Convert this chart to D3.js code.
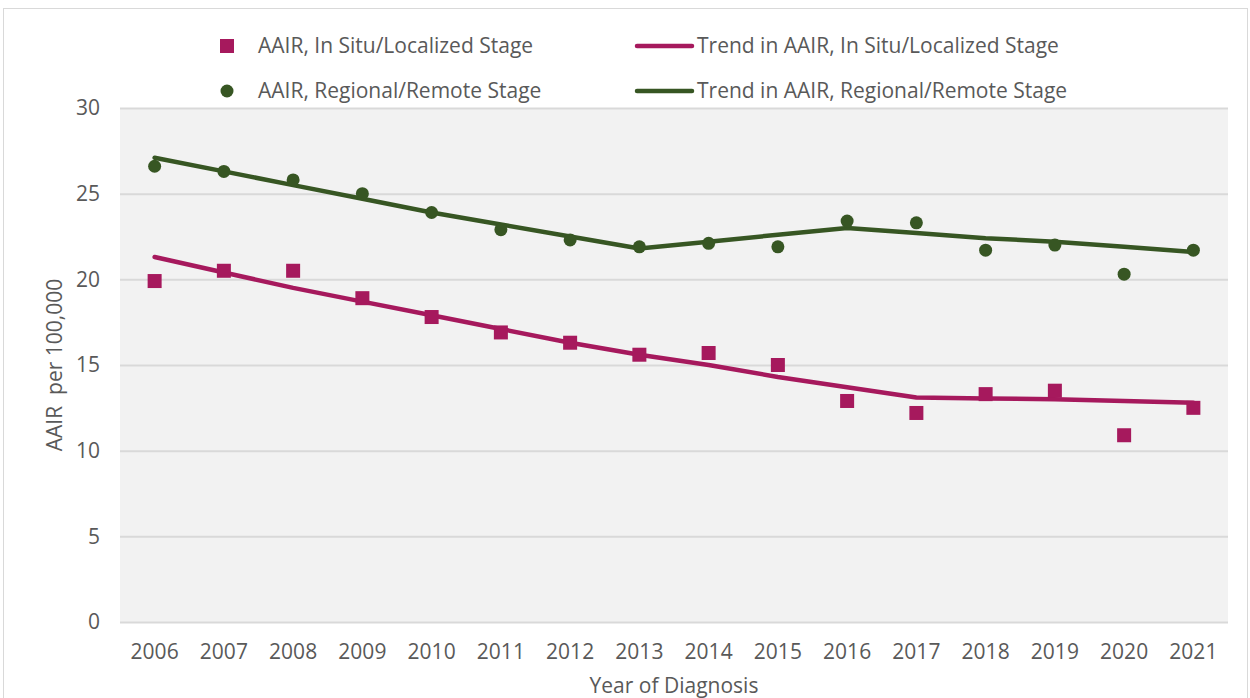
<!DOCTYPE html>
<html><head><meta charset="utf-8">
<script src="https://cdn.jsdelivr.net/npm/d3@7"></script>
<style>body{margin:0;background:#fff}svg{display:block}text{font-family:"Open Sans",sans-serif;fill:#595959}</style>
</head><body><svg id="c" width="1250" height="698"></svg>
<script>
const years = [2006,2007,2008,2009,2010,2011,2012,2013,2014,2015,2016,2017,2018,2019,2020,2021];
const localized = [19.9,20.5,20.5,18.9,17.8,16.9,16.3,15.6,15.7,15.0,12.9,12.2,13.3,13.5,10.9,12.5];
const localizedTrend = [21.3,20.4,19.5,18.7,17.9,17.1,16.3,15.6,15.0,14.3,13.7,13.1,13.05,13.0,12.9,12.8];
const regional = [26.6,26.3,25.8,25.0,23.9,22.9,22.3,21.9,22.1,21.9,23.4,23.3,21.7,22.0,20.3,21.7];
const regionalTrend = [27.1,26.3,25.5,24.7,23.9,23.2,22.5,21.8,22.2,22.6,23.0,22.7,22.4,22.2,21.9,21.6];
const yTicks = [0,5,10,15,20,25,30];
const legendLabels = ["AAIR, In Situ/Localized Stage","Trend in AAIR, In Situ/Localized Stage","AAIR, Regional/Remote Stage","Trend in AAIR, Regional/Remote Stage"];
const magenta = "#A6195D", green = "#375623";

const svg = d3.select("#c");
svg.append("rect").attr("x",3.5).attr("y",8.5).attr("width",1244).attr("height",700).attr("fill","#fff").attr("stroke","#D9D9D9");
const L=120,R=1228,T=108,B=622;
const x = d3.scaleBand().domain(years).range([L,R]);
const y = d3.scaleLinear().domain([0,30]).range([B,T]);
const cx = d=>x(d)+x.bandwidth()/2;
svg.append("rect").attr("x",L).attr("y",T).attr("width",R-L).attr("height",B-T).attr("fill","#F2F2F2");
const ya = svg.append("g").attr("transform",`translate(${L},0)`).call(d3.axisLeft(y).tickValues(yTicks).tickSize(-(R-L)).tickPadding(20));
ya.select(".domain").remove();
ya.selectAll("line").attr("stroke","#D9D9D9").attr("stroke-width",2);
ya.selectAll("text").attr("font-size",21).attr("fill","#595959");
const xa = svg.append("g").attr("transform",`translate(0,${B})`).call(d3.axisBottom(x).tickSize(0).tickPadding(22));
xa.select(".domain").remove();
xa.selectAll("text").attr("font-size",21).attr("fill","#595959");
svg.append("text").attr("x",(L+R)/2).attr("y",693).attr("text-anchor","middle").attr("font-size",21).text("Year of Diagnosis");
svg.append("text").attr("transform",`translate(62,${(T+B)/2}) rotate(-90)`).attr("text-anchor","middle").attr("font-size",21).style("white-space","pre").text("AAIR  per 100,000");

const line = d3.line().x((d,i)=>cx(years[i])).y(d=>y(d));
svg.append("path").attr("d",line(localizedTrend)).attr("fill","none").attr("stroke",magenta).attr("stroke-width",4.5).attr("stroke-linecap","round").attr("stroke-linejoin","round");
svg.append("path").attr("d",line(regionalTrend)).attr("fill","none").attr("stroke",green).attr("stroke-width",4.5).attr("stroke-linecap","round").attr("stroke-linejoin","round");
const s=14;
svg.selectAll(".sq").data(localized).enter().append("rect").attr("x",(d,i)=>cx(years[i])-s/2).attr("y",d=>y(d)-s/2).attr("width",s).attr("height",s).attr("fill",magenta);
svg.selectAll(".ci").data(regional).enter().append("circle").attr("cx",(d,i)=>cx(years[i])).attr("cy",d=>y(d)).attr("r",6.5).attr("fill",green);

// legend
const lg = svg.append("g");
lg.append("rect").attr("x",220).attr("y",39).attr("width",14).attr("height",14).attr("fill",magenta);
lg.append("circle").attr("cx",227).attr("cy",91).attr("r",6.5).attr("fill",green);
lg.append("line").attr("x1",637).attr("x2",692).attr("y1",46).attr("y2",46).attr("stroke",magenta).attr("stroke-width",4.5).attr("stroke-linecap","round");
lg.append("line").attr("x1",637).attr("x2",692).attr("y1",91).attr("y2",91).attr("stroke",green).attr("stroke-width",4.5).attr("stroke-linecap","round");
const lpos=[[258,46],[697,46],[258,91],[697,91]];
legendLabels.forEach((t,i)=>lg.append("text").attr("x",lpos[i][0]).attr("y",lpos[i][1]).attr("dy","0.35em").attr("font-size",21).text(t));
</script></body></html>
